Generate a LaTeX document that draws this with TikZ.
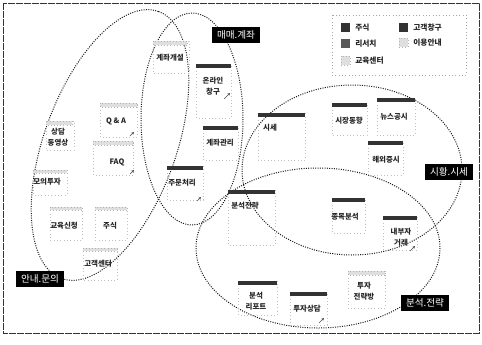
\documentclass[tikz,border=0pt]{standalone}
\usepackage{fontspec}
\usetikzlibrary{arrows.meta}
\newfontfamily\kr{Noto Sans CJK KR}
\begin{document}
\begin{tikzpicture}[x=0.75pt,y=-0.75pt,
  frame/.style={dash pattern=on 5pt off 1pt, line width=0.6pt, black!80},
  ell/.style={densely dotted, line width=0.75pt, black!90},
  nbox/.style={dotted, gray!50, line width=0.5pt},
  hdark/.style={fill=black!80},
  hlight/.style={fill=gray!25, draw=gray!60, dotted, line width=0.3pt},
  ntext/.style={font=\kr\bfseries\fontsize{5.6}{7}\selectfont, text=black!85, inner sep=0pt, align=center},
  lab/.style={fill=black, text=white, font=\kr\fontsize{7.2}{8}\selectfont, inner xsep=4pt, inner ysep=3pt},
  legtext/.style={font=\kr\bfseries\fontsize{5.8}{7}\selectfont, anchor=west, inner sep=0pt, text=black!85},
  linkmark/.style={line width=0.5pt, black!70, -{Stealth[length=2pt,width=2pt]}}
]
\useasboundingbox (0,0) rectangle (482,344);
\draw[frame] (3,3) rectangle (479,333);

% ellipses
\draw[ell, rotate around={70:(110,145)}] (110,145) ellipse [x radius=142, y radius=66];
\draw[ell] (192,119) ellipse [x radius=51, y radius=106];
\draw[ell] (352,170) ellipse [x radius=110, y radius=85];
\draw[ell] (318,248) ellipse [x radius=122, y radius=80];

% legend
\draw[nbox, gray!70] (332,15) rectangle (466,75);
\fill[hdark] (341,23) rectangle (350,32);
\node[legtext] (lg1) at (355,27.5) {주식};
\fill[hdark] (399,23) rectangle (408,32);
\node[legtext] (lg2) at (413,27.5) {고객창구};
\fill[black!65] (341,39) rectangle (350,48);
\node[legtext] (lg3) at (355,43.5) {리서치};
\path[hlight] (399,38) rectangle (408,47);
\node[legtext] (lg4) at (413,42.5) {이용안내};
\path[hlight] (341,56) rectangle (350,65);
\node[legtext] (lg5) at (355,60.5) {교육센터};

% boxes and headers
\draw[nbox] (153,41) rectangle (189,73); \path[hlight] (153,41) rectangle (187,45);
\node[ntext] (n1) at (170,58) {계좌개설};
\draw[nbox] (196,64) rectangle (231,118); \fill[hdark] (196,64) rectangle (231,68);
\node[ntext] (n2) at (213,86) {온라인\\[1pt]창구};
\draw[nbox] (100,103) rectangle (137,137); \path[hlight] (100,103) rectangle (137,107);
\node[ntext] (n3) at (116,121) {Q \& A};
\draw[nbox] (46,121) rectangle (74,150); \path[hlight] (46,121) rectangle (72,125);
\node[ntext] (n4) at (58,137) {상담\\[1pt]동영상};
\draw[nbox] (93,141) rectangle (133,175); \path[hlight] (93,141) rectangle (133,145);
\node[ntext] (n5) at (117,162) {FAQ};
\draw[nbox] (203,126) rectangle (238,160); \fill[hdark] (203,126) rectangle (238,130);
\node[ntext] (n6) at (220,143) {계좌관리};
\draw[nbox] (33,170) rectangle (67,195); \path[hlight] (33,170) rectangle (67,173);
\node[ntext] (n7) at (47,182) {모의투자};
\draw[nbox] (167,166) rectangle (203,200); \fill[hdark] (167,166) rectangle (203,170);
\node[ntext] (n8) at (182,183) {주문처리};
\draw[nbox] (50,207) rectangle (82,240); \path[hlight] (50,207) rectangle (82,210);
\node[ntext] (n9) at (64,226) {교육신청};
\draw[nbox] (95,207) rectangle (127,240); \path[hlight] (95,207) rectangle (127,210);
\node[ntext] (n10) at (110,226) {주식};
\draw[nbox] (83,248) rectangle (117,280); \path[hlight] (83,248) rectangle (117,251);
\node[ntext] (n11) at (98,264) {고객센터};
\draw[nbox] (258,113) rectangle (305,160); \fill[hdark] (258,113) rectangle (305,117);
\node[ntext] (n12) at (270,128) {시세};
\draw[nbox] (332,103) rectangle (367,135); \fill[hdark] (332,103) rectangle (367,107);
\node[ntext] (n13) at (349,121) {시장동향};
\draw[nbox] (377,98) rectangle (415,135); \fill[hdark] (377,98) rectangle (415,102);
\node[ntext] (n14) at (394,117) {뉴스공시};
\draw[nbox] (368,141) rectangle (403,175); \fill[hdark] (368,141) rectangle (403,145);
\node[ntext] (n15) at (386,160) {해외증시};
\draw[nbox] (228,190) rectangle (275,245); \fill[hdark] (228,190) rectangle (275,194);
\node[ntext] (n16) at (245,206) {분석전략};
\draw[nbox] (332,198) rectangle (365,233); \fill[hdark] (332,198) rectangle (365,202);
\node[ntext] (n17) at (345,217) {종목분석};
\draw[nbox] (383,216) rectangle (417,250); \fill[hdark] (383,216) rectangle (417,220);
\node[ntext] (n18) at (401,237) {내부자\\[1pt]거래};
\draw[nbox] (348,271) rectangle (385,308); \path[hlight] (348,271) rectangle (385,275);
\node[ntext] (n19) at (364,291) {투자\\[1pt]전략방};
\draw[nbox] (238,281) rectangle (277,315); \fill[hdark] (238,281) rectangle (277,285);
\node[ntext] (n20) at (256,301) {분석\\[1pt]리포트};
\draw[nbox] (290,292) rectangle (327,325); \fill[hdark] (290,292) rectangle (327,296);
\node[ntext] (n21) at (307,309) {투자상담};

% small link marks
\draw[linkmark] (224,99) -- (230,93);
\draw[linkmark] (130,136) -- (134,132);
\draw[linkmark] (130,174) -- (134,170);
\draw[linkmark] (197,201) -- (201,197);
\draw[linkmark] (410,251) -- (415,246);
\draw[linkmark] (319,323) -- (324,318);

% group labels
\node[lab] (l1) at (236,35) {매매.계좌};
\node[lab] (l2) at (449,172) {시황.시세};
\node[lab] (l3) at (425,303) {분석.전략};
\node[lab] (l4) at (40,279) {안내.문의};
\end{tikzpicture}
\end{document}
